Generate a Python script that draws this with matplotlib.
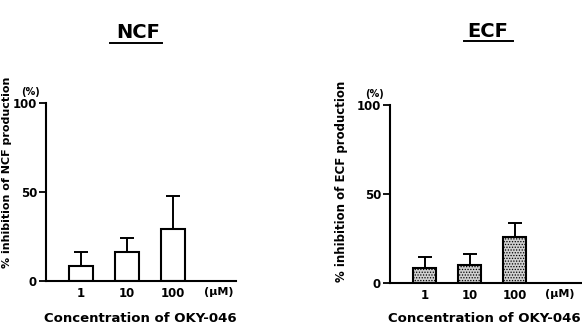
import matplotlib.pyplot as plt
import numpy as np

plt.rcParams["font.family"] = ["DejaVu Sans"]
plt.rcParams["font.weight"] = "bold"
plt.rcParams["hatch.linewidth"] = 0.6

concentrations = ["1", "10", "100"]
unit_label = "(\u03bcM)"
x_title = "Concentration of OKY-046"

ncf_values = [8.4, 16.2, 29.1]
ncf_errors = [8.1, 8.0, 18.7]

ecf_values = [8.6, 10.0, 25.8]
ecf_errors = [6.1, 6.2, 7.8]

W, H = 582, 329


def px_rect(x0, x1, y_top, y_bottom):
    return [x0 / W, 1 - y_bottom / H, (x1 - x0) / W, (y_bottom - y_top) / H]


def draw_panel(ax, values, errors, face, hatch, xlim):
    x = np.arange(len(values))
    ax.bar(
        x,
        values,
        width=0.52,
        facecolor=face,
        edgecolor="black",
        linewidth=1.5,
        hatch=hatch,
        zorder=2,
    )
    ax.errorbar(
        x,
        values,
        yerr=[np.zeros(len(errors)), errors],
        fmt="none",
        ecolor="black",
        elinewidth=1.4,
        capsize=5,
        capthick=1.4,
        zorder=1,
    )
    ax.set_xlim(*xlim)
    ax.set_ylim(0, 100)
    ax.set_yticks([0, 50, 100])
    ax.set_xticks(x)
    ax.set_xticklabels(concentrations, fontsize=8.5, fontweight="bold")
    ax.tick_params(axis="x", length=0, pad=4)
    ax.tick_params(axis="y", length=5, width=1.3, pad=1.5, labelsize=8.5)
    for lab in ax.get_yticklabels():
        lab.set_fontweight("bold")
    ax.spines["top"].set_visible(False)
    ax.spines["right"].set_visible(False)
    ax.spines["left"].set_linewidth(1.5)
    ax.spines["bottom"].set_linewidth(1.5)
    ax.text(3.0, -3.3, unit_label, ha="center", va="top", fontsize=8,
            fontweight="bold", transform=ax.transData)
    ax.text(-0.03, 1.035, "(%)", ha="right", va="bottom", fontsize=7,
            fontweight="bold", transform=ax.transAxes)


fig = plt.figure(figsize=(W / 100, H / 100), dpi=100)

ax1 = fig.add_axes(px_rect(46, 236, 103, 281))
draw_panel(ax1, ncf_values, ncf_errors, "white", None, (-0.76, 3.37))

ax2 = fig.add_axes(px_rect(390, 582, 105, 283))
draw_panel(ax2, ecf_values, ecf_errors, "#d0d0d0", "......", (-0.77, 3.5))

# x titles
fig.text(140 / W, 1 - 318 / H, x_title, ha="center", va="center",
         fontsize=9.5, fontweight="bold")
fig.text(484 / W, 1 - 318 / H, x_title, ha="center", va="center",
         fontsize=9.5, fontweight="bold")

# titles with underline
fig.text(138 / W, 1 - 38 / H, "NCF", ha="center", va="baseline",
         fontsize=14, fontweight="bold")
fig.add_artist(plt.Line2D([110 / W, 162 / W], [1 - 43 / H] * 2,
                          color="black", linewidth=1.4))
fig.text(488 / W, 1 - 37 / H, "ECF", ha="center", va="baseline",
         fontsize=14, fontweight="bold")
fig.add_artist(plt.Line2D([464 / W, 513 / W], [1 - 41 / H] * 2,
                          color="black", linewidth=1.4))

# y labels
fig.text(7 / W, 1 - 172 / H, "% inhibition of NCF production",
         rotation=90, ha="center", va="center", fontsize=8,
         fontweight="bold")
fig.text(341 / W, 1 - 181 / H, "% inhibition of ECF production",
         rotation=90, ha="center", va="center", fontsize=8.5,
         fontweight="bold")

fig.savefig("out.png", dpi=100)
